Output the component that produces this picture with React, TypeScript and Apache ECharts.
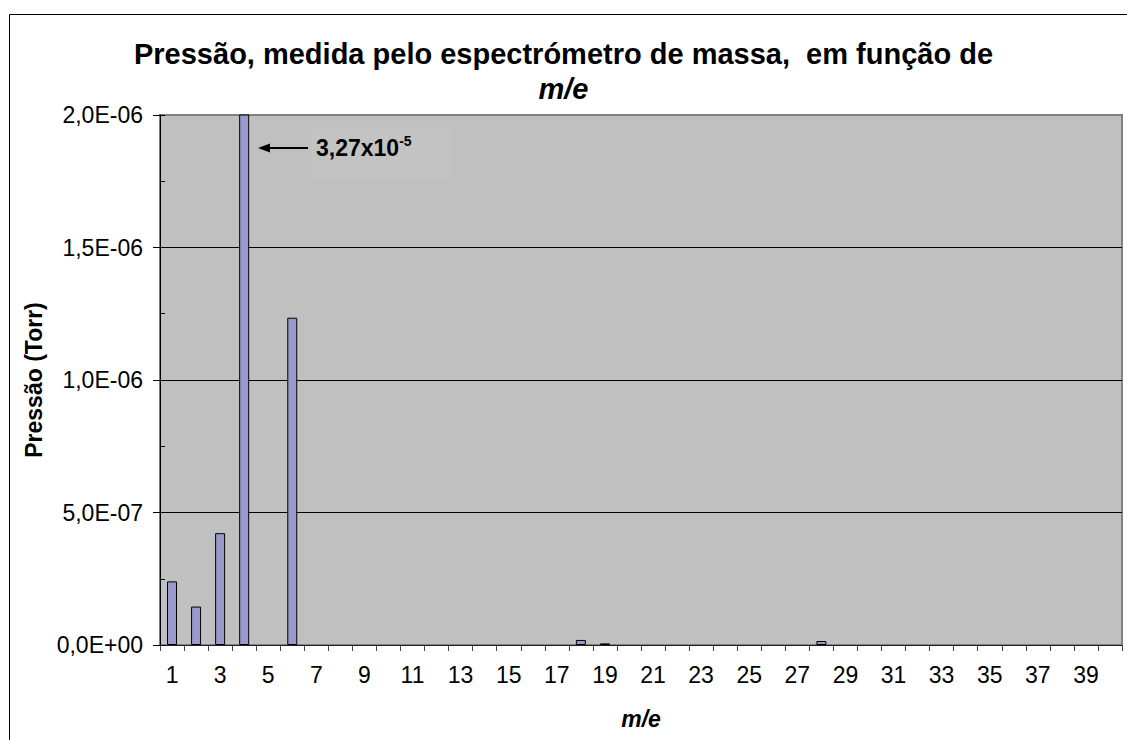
import React, { useEffect, useRef } from "react";
import * as echarts from "echarts";

const categories: string[] = Array.from({ length: 40 }, (_, i) => String(i + 1));
const pressure: number[] = [
  2.4e-7, 1.45e-7, 4.22e-7, 3.27e-5, 0, 1.235e-6, 0, 0, 0, 0,
  0, 0, 0, 0, 0, 0, 0, 1.9e-8, 6e-9, 0,
  0, 0, 0, 0, 0, 0, 0, 1.5e-8, 0, 0,
  0, 0, 0, 0, 0, 0, 0, 0, 0, 0,
];
const titleLine1 = "Pressão, medida pelo espectrómetro de massa,  em função de";
const titleLine2 = "m/e";
const yAxisTitle = "Pressão (Torr)";
const xAxisTitle = "m/e";
const annotationBase = "3,27x10";
const annotationExp = "-5";

const FONT = 'Arial, "Liberation Sans", sans-serif';

function fmt(v: number): string {
  if (v === 0) return "0,0E+00";
  const exp = Math.floor(Math.log10(Math.abs(v)) + 1e-9);
  const mant = v / Math.pow(10, exp);
  const sign = exp < 0 ? "-" : "+";
  const e = String(Math.abs(exp)).padStart(2, "0");
  return mant.toFixed(1).replace(".", ",") + "E" + sign + e;
}

export default function App() {
  const ref = useRef<HTMLDivElement>(null);
  useEffect(() => {
    if (!ref.current) return;
    const chart = echarts.init(ref.current, null, { renderer: "svg" });
    chart.setOption({
      animation: false,
      backgroundColor: "#ffffff",
      textStyle: { fontFamily: FONT },
      title: {
        text: titleLine1 + "\n{i|" + titleLine2 + "}",
        left: "center",
        top: 31,
        textStyle: {
          fontFamily: FONT,
          fontSize: 29,
          fontWeight: "bold",
          color: "#000",
          lineHeight: 35,
          rich: {
            i: { fontFamily: FONT, fontSize: 29, fontWeight: "bold", fontStyle: "italic", color: "#000", lineHeight: 35 },
          },
        },
      },
      grid: {
        left: 160,
        right: 5,
        top: 115,
        bottom: 95,
        show: true,
        backgroundColor: "#C0C0C0",
        borderColor: "#808080",
        borderWidth: 2,
      },
      xAxis: {
        type: "category",
        data: categories,
        boundaryGap: true,
        name: xAxisTitle,
        nameLocation: "middle",
        nameGap: 62,
        nameTextStyle: { fontFamily: FONT, fontSize: 23, fontWeight: "bold", fontStyle: "italic", color: "#000" },
        axisLine: { show: true, lineStyle: { color: "#202020", width: 1 } },
        axisTick: { show: true, interval: 0, length: 6, lineStyle: { color: "#404040" } },
        axisLabel: { interval: 1, margin: 18, fontFamily: FONT, fontSize: 23, color: "#000" },
        splitLine: { show: false },
      },
      yAxis: [
        {
          type: "value",
          min: 0,
          max: 2e-6,
          interval: 5e-7,
          position: "left",
          name: yAxisTitle,
          nameLocation: "middle",
          nameGap: 110,
          nameTextStyle: { fontFamily: FONT, fontSize: 23, fontWeight: "bold", color: "#000" },
          axisLine: { show: true, lineStyle: { color: "#000", width: 1 } },
          axisTick: { show: true, length: 7, lineStyle: { color: "#000" } },
          axisLabel: { formatter: (v: number) => fmt(v), margin: 17, fontFamily: FONT, fontSize: 23, color: "#000" },
          splitLine: { show: true, lineStyle: { color: ["#000", "#000", "#000", "#000", "#808080"], width: 1 } },
        },
        {
          type: "value",
          min: 0,
          max: 2e-6,
          interval: 2.5e-7,
          position: "left",
          offset: 0,
          axisLine: { show: false },
          axisTick: { show: true, inside: true, length: 5, lineStyle: { color: "#000" } },
          axisLabel: { show: false },
          splitLine: { show: false },
        },
      ],
      series: [
        {
          type: "bar",
          data: pressure.map((v) => (v === 0 ? "-" : v)),
          barWidth: 10,
          clip: true,
          itemStyle: { color: "#9999CC", borderColor: "#000", borderWidth: 1 },
        },
      ],
      graphic: [
        {
          type: "rect",
          left: 7,
          top: 12,
          shape: { x: 0, y: 0, width: 1200, height: 800 },
          style: { fill: "none", stroke: "#000", lineWidth: 1 },
          silent: true,
        },
        {
          type: "rect",
          shape: { x: 312, y: 128, width: 140, height: 50 },
          style: { fill: "#C3C3C3" },
          silent: true,
          z: 5,
        },
        {
          type: "line",
          shape: { x1: 266, y1: 148, x2: 308, y2: 148 },
          style: { stroke: "#000", lineWidth: 2 },
          z: 10,
        },
        {
          type: "polygon",
          shape: { points: [[258, 148], [270, 143.5], [270, 152.5]] },
          style: { fill: "#000" },
          z: 10,
        },
        {
          type: "text",
          x: 316,
          y: 148,
          z: 10,
          style: {
            text: "{b|" + annotationBase + "}{s|" + annotationExp + "}",
            verticalAlign: "middle",
            rich: {
              b: { fontFamily: FONT, fontSize: 23, fontWeight: "bold", fill: "#000" },
              s: { fontFamily: FONT, fontSize: 14, fontWeight: "bold", fill: "#000", verticalAlign: "top", padding: [0, 0, 14, 0] },
            },
          },
        },
      ],
    });
    return () => chart.dispose();
  }, []);
  return (
    <div
      ref={ref}
      style={{ position: "fixed", left: 0, top: 0, width: 1127, height: 740 }}
    />
  );
}
